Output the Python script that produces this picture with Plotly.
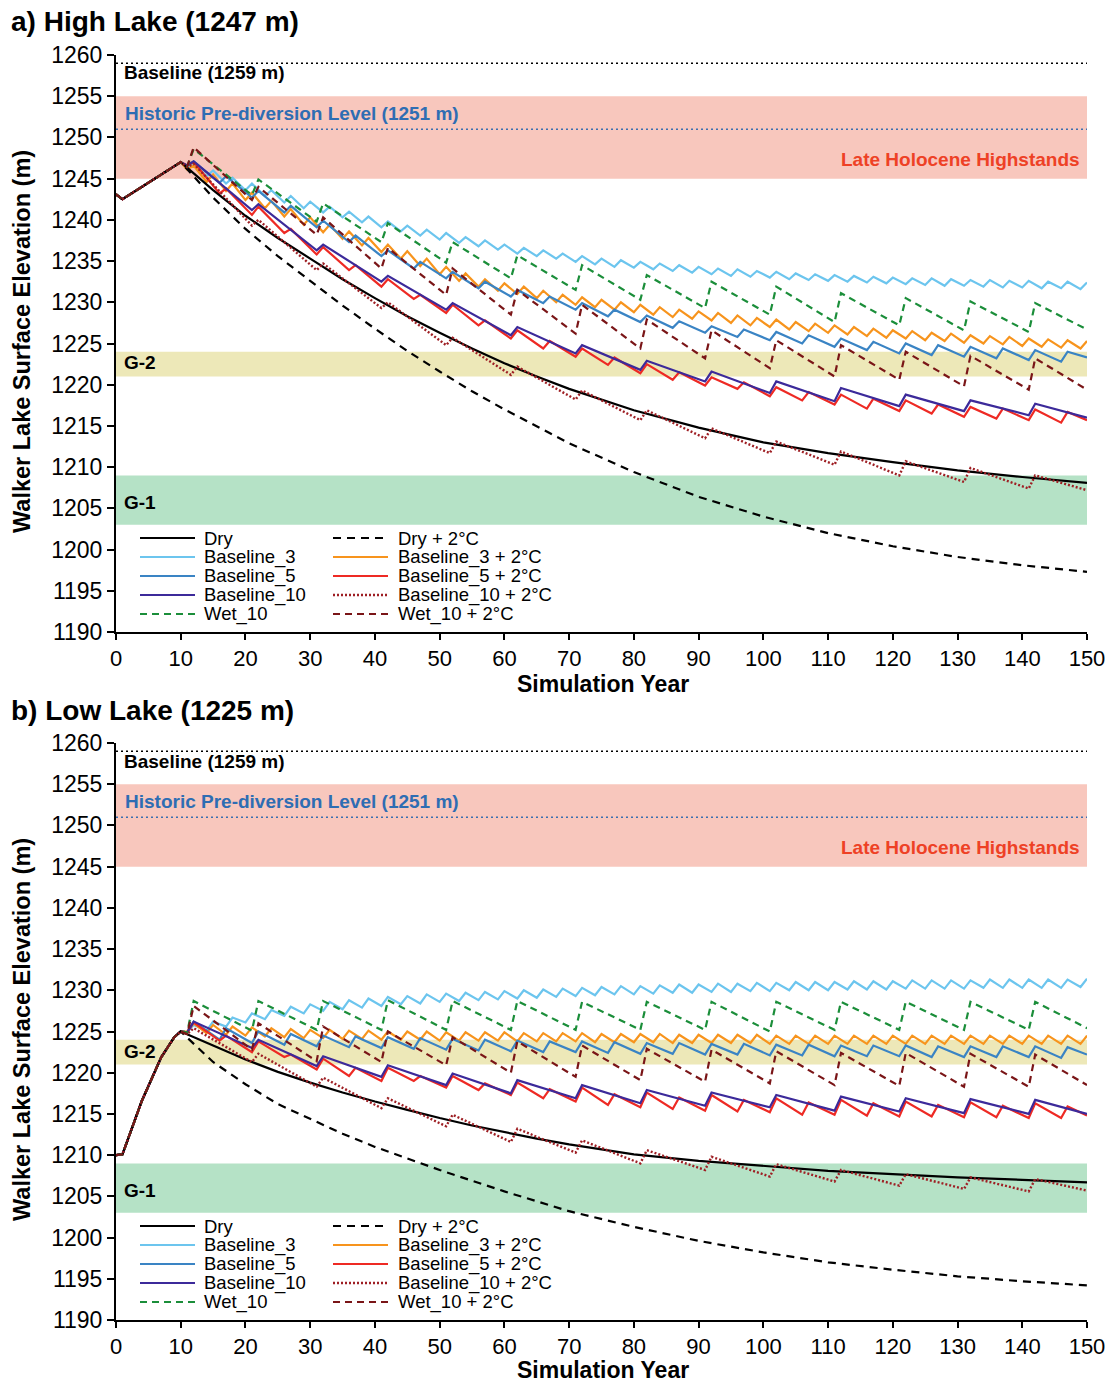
import plotly.graph_objects as go

FONT = "Liberation Sans, Arial, Helvetica, sans-serif"

# ---------------- simulation-year schedules ----------------
YEARS_P3 = [y for k in range(4, 51) for y in (3 * k - 1, 3 * k)]          # 3-yr cycles
YEARS_P5 = [11, 12] + [y for k in range(3, 30) for y in (5 * k + 1, 5 * k + 2)] + [150]
YEARS_P10 = [y for k in range(1, 15) for y in (10 * k + 1, 10 * k + 2)] + [150]
DRY_YEARS = [15, 20, 25, 30, 35, 40, 45, 50, 55, 60, 65, 70, 80, 90, 100, 110, 120, 130, 140, 150]

# ---------------- panel a: High Lake (1247 m) ----------------
A_PRE_YEARS = [0, 1, 10]
A_PRE = [1243.1, 1242.5, 1247.0]

A_DRY = [1243.6, 1240.5, 1237.8, 1235.3, 1232.8, 1230.5, 1228.3, 1226.3, 1224.4, 1222.6,
         1221.0, 1219.5, 1216.9, 1214.8, 1213.0, 1211.7, 1210.6, 1209.6, 1208.8, 1208.1]
A_DRY2 = [1242.7, 1238.9, 1235.6, 1232.6, 1229.6, 1226.8, 1224.1, 1221.6, 1219.2, 1217.0,
          1214.9, 1212.9, 1209.4, 1206.4, 1204.0, 1202.0, 1200.4, 1199.1, 1198.1, 1197.3]
A_B3 = [1246.2, 1246.9, 1245.3, 1246.0, 1244.4, 1245.1, 1243.6, 1244.4, 1242.9, 1243.6,
        1242.1, 1242.9, 1241.4, 1242.2, 1240.9, 1241.6, 1240.3, 1241.0, 1239.7, 1240.4,
        1239.1, 1239.8, 1238.6, 1239.3, 1238.1, 1238.8, 1237.6, 1238.4, 1237.2, 1237.9,
        1236.8, 1237.5, 1236.4, 1237.0, 1235.9, 1236.6, 1235.6, 1236.3, 1235.3, 1235.9,
        1234.9, 1235.6, 1234.6, 1235.3, 1234.3, 1235.1, 1234.2, 1234.9, 1234.0, 1234.7,
        1233.8, 1234.5, 1233.6, 1234.3, 1233.4, 1234.1, 1233.2, 1234.0, 1233.1, 1233.8,
        1233.0, 1233.7, 1232.8, 1233.5, 1232.7, 1233.4, 1232.6, 1233.3, 1232.5, 1233.2,
        1232.4, 1233.1, 1232.3, 1233.0, 1232.2, 1232.9, 1232.1, 1232.9, 1232.0, 1232.8,
        1232.0, 1232.7, 1231.9, 1232.7, 1231.8, 1232.6, 1231.8, 1232.6, 1231.7, 1232.5,
        1231.7, 1232.5, 1231.6, 1232.4]
A_B3W = [1246.1, 1246.6, 1244.6, 1245.5, 1243.5, 1244.4, 1242.4, 1243.3, 1241.4, 1242.3,
         1240.4, 1241.3, 1239.4, 1240.3, 1238.5, 1239.4, 1237.7, 1238.6, 1236.9, 1237.8,
         1236.1, 1237.0, 1235.3, 1236.2, 1234.4, 1235.3, 1233.4, 1234.3, 1232.6, 1233.5,
         1231.9, 1232.8, 1231.4, 1232.3, 1231.0, 1231.9, 1230.5, 1231.4, 1230.0, 1230.9,
         1229.7, 1230.6, 1229.4, 1230.3, 1229.1, 1230.0, 1228.8, 1229.7, 1228.5, 1229.4,
         1228.2, 1229.1, 1228.0, 1228.9, 1227.8, 1228.7, 1227.5, 1228.4, 1227.2, 1228.1,
         1227.0, 1227.9, 1226.7, 1227.6, 1226.5, 1227.4, 1226.3, 1227.2, 1226.1, 1227.0,
         1225.9, 1226.8, 1225.7, 1226.6, 1225.6, 1226.5, 1225.4, 1226.3, 1225.3, 1226.2,
         1225.1, 1226.0, 1225.0, 1225.9, 1224.9, 1225.8, 1224.7, 1225.6, 1224.6, 1225.5,
         1224.5, 1225.4, 1224.4, 1225.3]
A_B5 = [1246.6, 1247.1,
        1244.5, 1245.3, 1242.7, 1243.5, 1240.9, 1241.7, 1239.1, 1239.9, 1237.3, 1238.1,
        1235.6, 1236.3, 1234.1, 1234.9, 1232.9, 1233.7, 1231.7, 1232.5, 1230.7, 1231.5,
        1229.9, 1230.7, 1229.1, 1229.9, 1228.3, 1229.1, 1227.6, 1228.4, 1226.9, 1227.7,
        1226.3, 1227.1, 1225.8, 1226.7, 1225.4, 1226.4, 1225.0, 1226.0, 1224.6, 1225.6,
        1224.2, 1225.2, 1223.8, 1225.0, 1223.6, 1224.8, 1223.4, 1224.6, 1223.2, 1224.4,
        1223.0, 1224.2, 1222.8, 1224.0,
        1223.3]
A_B5W = [1246.6, 1247.0,
         1243.2, 1243.8, 1240.6, 1241.6, 1238.4, 1238.9, 1235.8, 1236.7, 1233.9, 1234.5,
         1231.9, 1232.8, 1230.4, 1230.9, 1228.7, 1229.7, 1227.2, 1227.8, 1225.6, 1226.6,
         1224.4, 1225.3, 1223.4, 1224.4, 1222.4, 1223.3, 1221.4, 1222.5, 1220.6, 1221.5,
         1219.9, 1220.9, 1219.5, 1220.3, 1218.6, 1219.7, 1218.1, 1219.1, 1217.6, 1218.8,
         1217.1, 1218.3, 1216.8, 1218.1, 1216.5, 1217.6, 1216.1, 1217.3, 1215.9, 1217.1,
         1215.7, 1217.0, 1215.4, 1216.7,
         1215.7]
A_B10 = [1246.6, 1247.1, 1241.2, 1241.9, 1236.3, 1237.0, 1232.5, 1233.2, 1229.1, 1229.9,
         1226.0, 1227.0, 1223.8, 1224.8, 1221.8, 1222.9, 1220.4, 1221.6, 1219.0, 1220.4,
         1218.0, 1219.6, 1217.4, 1218.8, 1216.8, 1218.1, 1216.3, 1217.7, 1216.0]
A_B10W = [1246.4, 1246.8, 1239.3, 1240.0, 1233.9, 1234.7, 1229.3, 1230.0, 1224.8, 1225.7,
          1221.2, 1222.2, 1218.2, 1219.3, 1215.7, 1216.9, 1213.5, 1214.7, 1211.7, 1213.1,
          1210.3, 1211.9, 1209.0, 1210.7, 1208.2, 1209.9, 1207.4, 1209.0, 1207.2]
A_W10 = [1246.5, 1248.6, 1243.0, 1244.9, 1239.8, 1242.0, 1237.3, 1239.6, 1234.8, 1237.3,
         1232.9, 1235.7, 1231.5, 1234.5, 1230.3, 1233.3, 1229.3, 1232.5, 1228.5, 1231.9,
         1227.6, 1231.1, 1227.2, 1230.5, 1226.6, 1230.1, 1226.4, 1229.9, 1226.7]
A_W10W = [1246.5, 1248.8, 1242.4, 1244.0, 1238.2, 1240.3, 1234.1, 1236.6, 1230.9, 1234.1,
          1228.5, 1231.5, 1226.2, 1229.7, 1224.4, 1227.9, 1223.2, 1226.6, 1222.0, 1225.4,
          1221.0, 1224.8, 1220.6, 1224.0, 1219.8, 1223.5, 1219.4, 1223.2, 1219.4]

# ---------------- panel b: Low Lake (1225 m) ----------------
B_PRE_YEARS = [0, 1, 4, 7, 9, 10]
B_PRE = [1210.0, 1210.1, 1216.6, 1221.9, 1224.3, 1225.0]

B_DRY = [1223.3, 1221.6, 1220.1, 1218.8, 1217.6, 1216.5, 1215.5, 1214.5, 1213.6, 1212.8,
         1212.0, 1211.3, 1210.1, 1209.3, 1208.7, 1208.1, 1207.7, 1207.3, 1207.0, 1206.7]
B_DRY2 = [1221.3, 1218.6, 1216.2, 1214.4, 1212.6, 1211.0, 1209.6, 1208.2, 1206.9, 1205.6,
          1204.4, 1203.2, 1201.3, 1199.6, 1198.2, 1197.0, 1196.1, 1195.3, 1194.7, 1194.2]
B_B3 = [1224.9, 1225.8, 1225.1, 1226.2, 1225.6, 1226.7, 1226.1, 1227.2, 1226.5, 1227.6,
        1226.9, 1228.0, 1227.2, 1228.3, 1227.5, 1228.6, 1227.7, 1228.8, 1227.9, 1229.0,
        1228.1, 1229.2, 1228.3, 1229.3, 1228.4, 1229.5, 1228.6, 1229.6, 1228.7, 1229.7,
        1228.8, 1229.8, 1228.9, 1229.9, 1229.0, 1230.0, 1229.1, 1230.1, 1229.2, 1230.2,
        1229.3, 1230.3, 1229.4, 1230.4, 1229.5, 1230.5, 1229.5, 1230.5, 1229.6, 1230.6,
        1229.7, 1230.7, 1229.7, 1230.7, 1229.8, 1230.8, 1229.8, 1230.8, 1229.9, 1230.9,
        1229.9, 1230.9, 1230.0, 1231.0, 1230.0, 1231.0, 1230.0, 1231.0, 1230.1, 1231.1,
        1230.1, 1231.1, 1230.1, 1231.1, 1230.2, 1231.2, 1230.2, 1231.2, 1230.2, 1231.2,
        1230.2, 1231.2, 1230.3, 1231.3, 1230.3, 1231.3, 1230.3, 1231.3, 1230.3, 1231.3,
        1230.3, 1231.3, 1230.4, 1231.4]
B_B3W = [1225.0, 1226.0, 1224.8, 1225.8, 1224.6, 1225.6, 1224.5, 1225.5, 1224.4, 1225.4,
         1224.3, 1225.3, 1224.2, 1225.2, 1224.2, 1225.2, 1224.1, 1225.1, 1224.1, 1225.1,
         1224.0, 1225.0, 1224.0, 1225.0, 1224.0, 1225.0, 1223.9, 1224.9, 1223.9, 1224.9,
         1223.9, 1224.9, 1223.9, 1224.9, 1223.8, 1224.8, 1223.8, 1224.8, 1223.8, 1224.8,
         1223.8, 1224.8, 1223.7, 1224.7, 1223.7, 1224.7, 1223.7, 1224.7, 1223.7, 1224.7,
         1223.6, 1224.6, 1223.6, 1224.6, 1223.6, 1224.6, 1223.6, 1224.6, 1223.6, 1224.6,
         1223.5, 1224.5, 1223.5, 1224.5, 1223.5, 1224.5, 1223.5, 1224.5, 1223.5, 1224.5,
         1223.5, 1224.5, 1223.5, 1224.5, 1223.5, 1224.5, 1223.5, 1224.5, 1223.5, 1224.5,
         1223.5, 1224.5, 1223.5, 1224.5, 1223.5, 1224.5, 1223.5, 1224.5, 1223.5, 1224.5,
         1223.5, 1224.5, 1223.5, 1224.5]
B_B5 = [1224.9, 1226.2,
        1224.0, 1225.4, 1223.6, 1225.0, 1223.4, 1224.7, 1223.2, 1224.5, 1223.1, 1224.4,
        1223.0, 1224.3, 1222.9, 1224.2, 1222.8, 1224.1, 1222.7, 1224.0, 1222.6, 1223.9,
        1222.5, 1223.8, 1222.5, 1223.8, 1222.4, 1223.7, 1222.3, 1223.6, 1222.3, 1223.6,
        1222.2, 1223.5, 1222.2, 1223.5, 1222.1, 1223.4, 1222.1, 1223.4, 1222.0, 1223.3,
        1222.0, 1223.3, 1222.0, 1223.3, 1221.9, 1223.2, 1221.9, 1223.2, 1221.9, 1223.2,
        1221.9, 1223.2, 1221.8, 1223.1,
        1222.2]
B_B5W = [1224.9, 1226.1,
         1223.9, 1224.5, 1222.5, 1223.8, 1221.9, 1222.2, 1220.4, 1221.7, 1219.6, 1220.6,
         1219.0, 1220.6, 1219.0, 1219.6, 1218.2, 1219.6, 1217.9, 1218.7, 1217.3, 1218.8,
         1216.9, 1218.0, 1216.5, 1218.2, 1216.1, 1217.4, 1215.8, 1217.6, 1215.6, 1217.0,
         1215.4, 1217.3, 1215.3, 1216.7, 1215.2, 1216.9, 1214.9, 1216.4, 1214.9, 1216.7,
         1214.8, 1216.3, 1214.7, 1216.5, 1214.7, 1216.1, 1214.6, 1216.4, 1214.6, 1216.0,
         1214.5, 1216.3, 1214.5, 1215.9,
         1214.8]
B_B10 = [1224.9, 1226.2, 1223.0, 1224.0, 1220.8, 1222.0, 1219.5, 1220.9, 1218.5, 1219.9,
         1217.5, 1219.1, 1216.9, 1218.5, 1216.3, 1217.9, 1216.0, 1217.6, 1215.8, 1217.3,
         1215.4, 1217.1, 1215.3, 1216.9, 1215.1, 1216.8, 1215.0, 1216.7, 1215.0]
B_B10W = [1224.7, 1225.4, 1221.3, 1222.3, 1218.3, 1219.4, 1215.7, 1216.9, 1213.5, 1214.9,
          1211.6, 1213.2, 1210.3, 1211.8, 1209.0, 1210.6, 1208.2, 1209.8, 1207.4, 1208.9,
          1206.8, 1208.2, 1206.3, 1207.7, 1205.9, 1207.3, 1205.6, 1207.1, 1205.7]
B_W10 = [1224.9, 1228.7, 1225.1, 1228.7, 1225.2, 1228.7, 1225.2, 1228.8, 1225.2, 1228.7,
         1225.2, 1228.7, 1225.2, 1228.6, 1225.2, 1228.6, 1225.2, 1228.6, 1225.0, 1228.6,
         1225.2, 1228.6, 1225.2, 1228.6, 1225.2, 1228.6, 1225.2, 1228.6, 1225.4]
B_W10W = [1224.7, 1228.1, 1222.8, 1226.0, 1221.4, 1225.6, 1221.3, 1225.0, 1220.9, 1224.3,
          1220.0, 1223.8, 1219.5, 1223.3, 1219.1, 1222.9, 1218.9, 1222.8, 1218.7, 1222.6,
          1218.5, 1222.4, 1218.4, 1222.4, 1218.3, 1222.3, 1218.3, 1222.2, 1218.5]

# reference levels / bands (m)
BASELINE_LEVEL = 1259
HISTORIC_LEVEL = 1251
HIGHSTAND_BAND = (1245, 1255)
G2_BAND = (1221, 1224)
G1_BAND = (1203, 1209)

# ---------------- styles ----------------
C_LBLUE = "#6CC5EE"
C_ORANGE = "#F7941D"
C_BLUE = "#3A84C4"
C_RED = "#EE2A24"
C_PURPLE = "#3C2A9A"
C_GREEN = "#1B8E3A"
C_DOT = "#9E1F24"
C_DDASH = "#7A1517"

# (label, color, dash, width, schedule, panel-a values, panel-b values)
SERIES = [
    ("Baseline_3", C_LBLUE, "solid", 2.2, YEARS_P3, A_B3, B_B3),
    ("Baseline_3 + 2°C", C_ORANGE, "solid", 2.2, YEARS_P3, A_B3W, B_B3W),
    ("Baseline_5", C_BLUE, "solid", 2.2, YEARS_P5, A_B5, B_B5),
    ("Baseline_5 + 2°C", C_RED, "solid", 2.2, YEARS_P5, A_B5W, B_B5W),
    ("Baseline_10", C_PURPLE, "solid", 2.2, YEARS_P10, A_B10, B_B10),
    ("Dry", "black", "solid", 2.2, DRY_YEARS, A_DRY, B_DRY),
    ("Dry + 2°C", "black", "8px,6px", 2.2, DRY_YEARS, A_DRY2, B_DRY2),
    ("Baseline_10 + 2°C", C_DOT, "2px,2px", 2.4, YEARS_P10, A_B10W, B_B10W),
    ("Wet_10", C_GREEN, "7px,5px", 2.2, YEARS_P10, A_W10, B_W10),
    ("Wet_10 + 2°C", C_DDASH, "7px,5px", 2.2, YEARS_P10, A_W10W, B_W10W),
]
LEGEND_COL1 = ["Dry", "Baseline_3", "Baseline_5", "Baseline_10", "Wet_10"]
LEGEND_COL2 = ["Dry + 2°C", "Baseline_3 + 2°C", "Baseline_5 + 2°C", "Baseline_10 + 2°C", "Wet_10 + 2°C"]

fig = go.Figure()

panels = [
    ("x", "y", A_PRE_YEARS, A_PRE),
    ("x2", "y2", B_PRE_YEARS, B_PRE),
]
for xa, ya, pre_years, pre_vals in panels:
    for label, color, dash, width, sched, a_vals, b_vals in SERIES:
        vals = a_vals if xa == "x" else b_vals
        fig.add_trace(go.Scatter(
            x=pre_years + sched, y=pre_vals + vals, mode="lines", name=label,
            line=dict(color=color, dash=dash, width=width),
            xaxis=xa, yaxis=ya, showlegend=False,
        ))

# ---------------- layout geometry (pixels of the 1110 x 1382 page) ----------------
W, H = 1110, 1382
L, R, T, B = 116, 1087, 55, 1320
PANEL_H = 577
A_BOTTOM, B_TOP = 632, 743


def px_x(px):
    return (px - L) / (R - L)


def px_paper_y(py):
    return (B - py) / (B - T)


shapes = []
annotations = []
LABEL_SIZE = 19

for xa, ya, bottom in [("x", "y", A_BOTTOM), ("x2", "y2", B)]:
    xd, yd = xa + " domain", ya + " domain"
    for (lo, hi), col in [(HIGHSTAND_BAND, "#F8C7BD"), (G2_BAND, "#EDE8B8"), (G1_BAND, "#B5E2C6")]:
        shapes.append(dict(type="rect", xref=xd, yref=ya, x0=0, x1=1, y0=lo, y1=hi,
                           fillcolor=col, line=dict(width=0), layer="below"))
    shapes.append(dict(type="line", xref=xd, yref=ya, x0=0, x1=1, y0=BASELINE_LEVEL, y1=BASELINE_LEVEL,
                       line=dict(color="black", width=1.5, dash="2px,3px"), layer="below"))
    shapes.append(dict(type="line", xref=xd, yref=ya, x0=0, x1=1, y0=HISTORIC_LEVEL, y1=HISTORIC_LEVEL,
                       line=dict(color="#3A6FB0", width=1.5, dash="2px,3px"), layer="below"))

    def dy(py, bottom=bottom):
        return (bottom - py) / PANEL_H

    off = 0 if xa == "x" else B_TOP - T
    # band / level labels
    annotations += [
        dict(text="<b>Baseline (1259 m)</b>", xref=xd, yref=yd, x=px_x(122), y=dy(73 + off),
             xanchor="left", yanchor="middle", showarrow=False, font=dict(size=LABEL_SIZE, color="black")),
        dict(text="<b>Historic Pre-diversion Level (1251 m)</b>", xref=xd, yref=yd, x=px_x(123),
             y=dy(113 + off), xanchor="left", yanchor="middle", showarrow=False,
             font=dict(size=LABEL_SIZE, color="#2E6DB3")),
        dict(text="<b>Late Holocene Highstands</b>", xref=xd, yref=yd, x=px_x(1082), y=dy(159 + off),
             xanchor="right", yanchor="middle", showarrow=False, font=dict(size=LABEL_SIZE, color="#EE4125")),
        dict(text="<b>G-2</b>", xref=xd, yref=yd, x=px_x(122), y=dy(363 + off),
             xanchor="left", yanchor="middle", showarrow=False, font=dict(size=LABEL_SIZE, color="black")),
        dict(text="<b>G-1</b>", xref=xd, yref=yd, x=px_x(122), y=dy(502 + off),
             xanchor="left", yanchor="middle", showarrow=False, font=dict(size=LABEL_SIZE, color="black")),
    ]
    # manual two-column legend
    style = {s[0]: s for s in SERIES}
    rows = [538, 557, 576, 595, 614]
    for col, (lx0, lx1, tx) in zip([LEGEND_COL1, LEGEND_COL2], [(140, 195, 202), (333, 388, 396)]):
        for name, ry in zip(col, rows):
            _, color, dash, width, *_ = style[name]
            shapes.append(dict(type="line", xref=xd, yref=yd, x0=px_x(lx0), x1=px_x(lx1),
                               y0=dy(ry + off), y1=dy(ry + off),
                               line=dict(color=color, dash=dash, width=width)))
            annotations.append(dict(text=name, xref=xd, yref=yd, x=px_x(tx), y=dy(ry + off),
                                    xanchor="left", yanchor="middle", showarrow=False,
                                    font=dict(size=18.5, color="black")))

# panel titles and axis titles
for title, ty, ycen, xt in [("a) High Lake (1247 m)", 22, 342, 684), ("b) Low Lake (1225 m)", 710, 1030, 1370)]:
    annotations.append(dict(text=f"<b>{title}</b>", xref="paper", yref="paper", x=px_x(9),
                            y=px_paper_y(ty), xanchor="left", yanchor="middle", showarrow=False,
                            font=dict(size=28, color="black")))
    annotations.append(dict(text="<b>Walker Lake Surface Elevation (m)</b>", xref="paper", yref="paper",
                            x=px_x(22), y=px_paper_y(ycen), textangle=-90, xanchor="center",
                            yanchor="middle", showarrow=False, font=dict(size=23.5, color="black")))
    annotations.append(dict(text="<b>Simulation Year</b>", xref="paper", yref="paper",
                            x=px_x(603), y=px_paper_y(xt), xanchor="center", yanchor="middle",
                            showarrow=False, font=dict(size=23, color="black")))

axis_common = dict(showgrid=False, zeroline=False, showline=True, linecolor="black", linewidth=2,
                   ticks="outside", ticklen=6, tickwidth=2, tickcolor="black", automargin=False,
                   tickfont=dict(size=22, color="black", family=FONT))
xcommon = dict(axis_common, range=[0, 150], tickmode="array", tickvals=list(range(0, 151, 10)))
ycommon = dict(axis_common, range=[1190, 1260], tickmode="linear", tick0=1190, dtick=5,
               tickfont=dict(size=23, color="black", family=FONT), ticklen=7)

a_dom = [px_paper_y(A_BOTTOM), 1.0]
b_dom = [0.0, px_paper_y(B_TOP)]

fig.update_layout(
    width=W, height=H, autosize=False,
    margin=dict(l=L, r=W - R, t=T, b=H - B, autoexpand=False),
    paper_bgcolor="white", plot_bgcolor="white",
    font=dict(family=FONT, color="black"),
    showlegend=False,
    xaxis=dict(xcommon, domain=[0, 1], anchor="y"),
    yaxis=dict(ycommon, domain=a_dom, anchor="x"),
    xaxis2=dict(xcommon, domain=[0, 1], anchor="y2"),
    yaxis2=dict(ycommon, domain=b_dom, anchor="x2"),
    shapes=shapes,
    annotations=annotations,
)

fig.write_html(
    "out.html",
    config={"displayModeBar": False},
    post_script="document.body.style.margin='0px';document.body.style.overflow='hidden';",
)
